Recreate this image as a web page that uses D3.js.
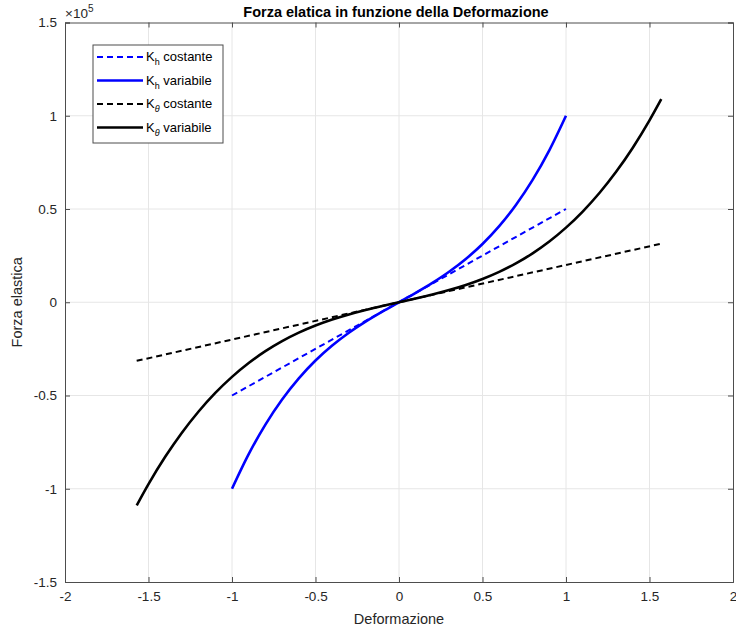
<!DOCTYPE html>
<html><head><meta charset="utf-8">
<script src="https://cdn.jsdelivr.net/npm/d3@7"></script>
<style>body{margin:0;background:#fff;} text{font-family:"Liberation Sans",Arial,sans-serif;}</style>
</head><body>
<svg id="c" width="736" height="635"></svg>
<script>
// ---- data ----
const xTicks = [-2, -1.5, -1, -0.5, 0, 0.5, 1, 1.5, 2];
const xTickLabels = ["-2", "-1.5", "-1", "-0.5", "0", "0.5", "1", "1.5", "2"];
const yTicks = [-1.5e5, -1e5, -0.5e5, 0, 0.5e5, 1e5, 1.5e5];
const yTickLabels = ["-1.5", "-1", "-0.5", "0", "0.5", "1", "1.5"];

const khCostX = [-1, 1];
const khCostY = [-50000, 50000];

const khVarX = [-1, -0.9, -0.8, -0.7, -0.6, -0.5, -0.4, -0.3, -0.2, -0.1, 0, 0.1, 0.2, 0.3, 0.4, 0.5, 0.6, 0.7, 0.8, 0.9, 1];
const khVarY = [-100000, -81450, -65600, -52150, -40800, -31250, -23200, -16350, -10400, -5050, 0, 5050, 10400, 16350, 23200, 31250, 40800, 52150, 65600, 81450, 100000];

const ktCostX = [-1.5708, 1.5708];
const ktCostY = [-31416, 31416];

const ktVarX = [-1.5708, -1.5, -1.4, -1.3, -1.2, -1.1, -1, -0.9, -0.8, -0.7, -0.6, -0.5, -0.4, -0.3, -0.2, -0.1, 0, 0.1, 0.2, 0.3, 0.4, 0.5, 0.6, 0.7, 0.8, 0.9, 1, 1.1, 1.2, 1.3, 1.4, 1.5, 1.5708];
const ktVarY = [-108930, -97500, -82880, -69940, -58560, -48620, -40000, -32580, -26240, -20860, -16320, -12500, -9280, -6540, -4160, -2020, 0, 2020, 4160, 6540, 9280, 12500, 16320, 20860, 26240, 32580, 40000, 48620, 58560, 69940, 82880, 97500, 108930];

const seriesNames = ["costante", "variabile", "costante", "variabile"];
const seriesSubs = ["h", "h", "θ", "θ"];

// ---- layout ----
const L = 65, R = 733, T = 22.5, B = 582;
const svg = d3.select("#c");
const x = d3.scaleLinear().domain([-2, 2]).range([L, R]);
const y = d3.scaleLinear().domain([-1.5e5, 1.5e5]).range([B, T]);

// grid
const g = svg.append("g");
g.selectAll(".gx").data(xTicks.slice(1, -1)).enter().append("line")
  .attr("x1", d => x(d)).attr("x2", d => x(d)).attr("y1", T).attr("y2", B)
  .attr("stroke", "#e6e6e6").attr("stroke-width", 1);
g.selectAll(".gy").data(yTicks.slice(1, -1)).enter().append("line")
  .attr("y1", d => y(d)).attr("y2", d => y(d)).attr("x1", L).attr("x2", R)
  .attr("stroke", "#e6e6e6").attr("stroke-width", 1);

// axes
const axColor = "#4d4d4d";
const xb = svg.append("g").attr("transform", `translate(0,${B})`)
  .call(d3.axisBottom(x).tickValues(xTicks).tickSize(-5).tickPadding(9).tickFormat((d, i) => xTickLabels[i]));
const xt = svg.append("g").attr("transform", `translate(0,${T})`)
  .call(d3.axisTop(x).tickValues(xTicks).tickSize(-5).tickFormat(""));
const yl = svg.append("g").attr("transform", `translate(${L},0)`)
  .call(d3.axisLeft(y).tickValues(yTicks).tickSize(-5).tickPadding(8).tickFormat((d, i) => yTickLabels[i]));
const yr = svg.append("g").attr("transform", `translate(${R},0)`)
  .call(d3.axisRight(y).tickValues(yTicks).tickSize(-5).tickFormat(""));
[xb, xt, yl, yr].forEach(a => {
  a.select(".domain").attr("stroke", axColor).attr("stroke-width", 1);
  a.selectAll(".tick line").attr("stroke", axColor);
  a.selectAll(".tick text").attr("fill", "#262626").style("font-size", "13.5px")
    .style("font-family", "'Liberation Sans', Arial, sans-serif");
});

// lines
const line = d3.line().x(d => x(d[0])).y(d => y(d[1])).curve(d3.curveMonotoneX);
const zip = (a, b) => a.map((v, i) => [v, b[i]]);
const series = [
  {pts: zip(khCostX, khCostY), color: "#0000ff", dash: "6,4", w: 2},
  {pts: zip(khVarX, khVarY), color: "#0000ff", dash: null, w: 2.6},
  {pts: zip(ktCostX, ktCostY), color: "#000000", dash: "6,4", w: 2},
  {pts: zip(ktVarX, ktVarY), color: "#000000", dash: null, w: 2.6}
];
series.forEach(s => {
  svg.append("path").attr("d", line(s.pts)).attr("fill", "none")
    .attr("stroke", s.color).attr("stroke-width", s.w)
    .attr("stroke-dasharray", s.dash);
});

// title
svg.append("text").attr("x", 396).attr("y", 17).attr("text-anchor", "middle")
  .style("font-size", "14.5px").style("font-weight", "bold").attr("fill", "#000")
  .text("Forza elatica in funzione della Deformazione");

// exponent
const ex = svg.append("text").attr("x", 65).attr("y", 18).attr("fill", "#262626").style("font-size", "13.5px");
ex.append("tspan").text("×10");
ex.append("tspan").attr("dy", -6).style("font-size", "10px").text("5");

// axis labels
svg.append("text").attr("x", 399).attr("y", 624).attr("text-anchor", "middle")
  .style("font-size", "14.5px").attr("fill", "#262626").text("Deformazione");
svg.append("text").attr("transform", `translate(22,${(T + B) / 2}) rotate(-90)`)
  .attr("text-anchor", "middle").style("font-size", "14.5px").attr("fill", "#262626").text("Forza elastica");

// legend
const lg = svg.append("g");
lg.append("rect").attr("x", 93).attr("y", 45).attr("width", 130).attr("height", 98)
  .attr("fill", "#fff").attr("stroke", "#4d4d4d").attr("stroke-width", 1);
series.forEach((s, i) => {
  const yy = 57 + i * 23.5;
  lg.append("line").attr("x1", 97).attr("x2", 143).attr("y1", yy).attr("y2", yy)
    .attr("stroke", s.color).attr("stroke-width", s.w).attr("stroke-dasharray", s.dash);
  const t = lg.append("text").attr("x", 146).attr("y", yy + 4).attr("fill", "#000").style("font-size", "13px");
  t.append("tspan").text("K");
  t.append("tspan").attr("dy", 4).style("font-size", "9px")
    .style("font-style", seriesSubs[i] === "θ" ? "italic" : "normal").text(seriesSubs[i]);
  t.append("tspan").attr("dy", -4).text(" " + seriesNames[i]);
});
</script>
</body></html>
